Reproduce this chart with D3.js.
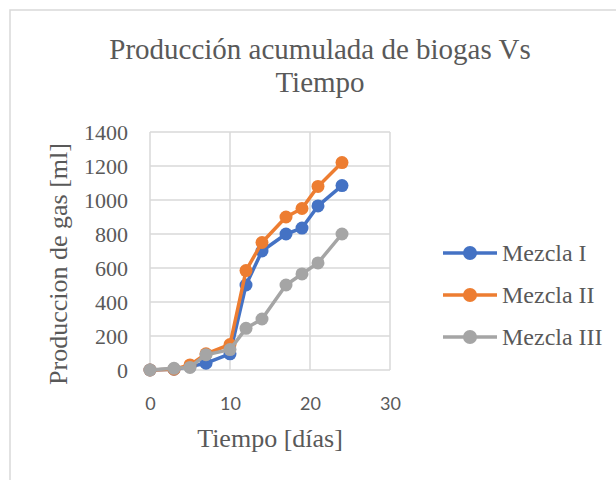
<!DOCTYPE html>
<html>
<head>
<meta charset="utf-8">
<script src="https://cdn.jsdelivr.net/npm/d3@7"></script>
<style>
  html, body { margin: 0; padding: 0; background: #fff; }
  svg { display: block; }
</style>
</head>
<body>
<svg id="chart" width="616" height="480"></svg>
<script>
const days = [0, 3, 5, 7, 10, 12, 14, 17, 19, 21, 24];
const mezclaI   = [0, 5, 20, 40, 95, 500, 700, 800, 835, 965, 1085];
const mezclaII  = [0, 5, 30, 95, 150, 585, 750, 900, 950, 1080, 1220];
const mezclaIII = [0, 10, 15, 90, 120, 245, 300, 500, 565, 630, 800];
const seriesNames = ["Mezcla I", "Mezcla II", "Mezcla III"];
const seriesColors = ["#4472C4", "#ED7D31", "#A5A5A5"];
const xTicks = [0, 10, 20, 30];
const yTicks = [0, 200, 400, 600, 800, 1000, 1200, 1400];
const titleLines = ["Producción acumulada de biogas Vs", "Tiempo"];
const xTitle = "Tiempo [días]";
const yTitle = "Produccion de gas [ml]";

const series = [mezclaI, mezclaII, mezclaIII].map((vals, i) => ({
  name: seriesNames[i], color: seriesColors[i],
  points: vals.map((v, j) => ({ x: days[j], y: v }))
}));

const svg = d3.select("#chart");
const serif = "'Liberation Serif', 'Times New Roman', serif";
const sans = "Lato, 'Open Sans', sans-serif";
const textColor = "#595959";
const gridColor = "#d9d9d9";

// outer chart border
svg.append("rect").attr("x", 10).attr("y", 10).attr("width", 640).attr("height", 500)
  .attr("fill", "#fff").attr("stroke", gridColor).attr("stroke-width", 1.5);

const x = d3.scaleLinear().domain([0, 30]).range([150, 390]);
const y = d3.scaleLinear().domain([0, 1400]).range([370, 132]);

// title
const title = svg.append("text").attr("text-anchor", "middle")
  .attr("font-family", serif).attr("font-size", 29).attr("fill", textColor);
titleLines.forEach((t, i) => {
  title.append("tspan").attr("x", 320).attr("y", 59 + i * 33).text(t);
});

// gridlines
svg.append("g").selectAll("line").data(yTicks).join("line")
  .attr("x1", x(0)).attr("x2", x(30)).attr("y1", d => y(d)).attr("y2", d => y(d))
  .attr("stroke", gridColor).attr("stroke-width", 1.5);
svg.append("g").selectAll("line").data(xTicks).join("line")
  .attr("x1", d => x(d)).attr("x2", d => x(d)).attr("y1", y(0)).attr("y2", y(1400))
  .attr("stroke", gridColor).attr("stroke-width", 1.5);

// y axis
const yAxis = svg.append("g").attr("transform", `translate(${x(0) - 22},0)`)
  .call(d3.axisLeft(y).tickValues(yTicks).tickSize(0).tickPadding(0).tickFormat(d3.format("d")));
yAxis.select(".domain").remove();
yAxis.selectAll("text").attr("font-family", serif).attr("font-size", 22).attr("fill", textColor)
  .attr("dy", "0.34em");

// x axis
const xAxis = svg.append("g").attr("transform", `translate(0,${y(0)})`)
  .call(d3.axisBottom(x).tickValues(xTicks).tickSize(0).tickPadding(0).tickFormat(d3.format("d")));
xAxis.select(".domain").remove();
xAxis.selectAll("text").attr("font-family", sans).attr("font-size", 18).attr("fill", textColor)
  .attr("y", 40).attr("dy", 0);

// axis titles
svg.append("text").attr("x", 270).attr("y", 447).attr("text-anchor", "middle")
  .attr("font-family", serif).attr("font-size", 26).attr("fill", textColor).text(xTitle);
svg.append("text").attr("transform", "translate(67,264) rotate(-90)").attr("text-anchor", "middle")
  .attr("font-family", serif).attr("font-size", 26).attr("fill", textColor).text(yTitle);

// series
const line = d3.line().x(d => x(d.x)).y(d => y(d.y));
series.forEach(s => {
  const g = svg.append("g");
  g.append("path").attr("d", line(s.points)).attr("fill", "none")
    .attr("stroke", s.color).attr("stroke-width", 3.5).attr("stroke-linejoin", "round");
  g.selectAll("circle").data(s.points).join("circle")
    .attr("cx", d => x(d.x)).attr("cy", d => y(d.y)).attr("r", 6.5).attr("fill", s.color);
});

// legend
const legend = svg.append("g");
series.forEach((s, i) => {
  const ly = 253 + i * 42;
  legend.append("line").attr("x1", 443).attr("x2", 497).attr("y1", ly).attr("y2", ly)
    .attr("stroke", s.color).attr("stroke-width", 3.5);
  legend.append("circle").attr("cx", 470).attr("cy", ly).attr("r", 7).attr("fill", s.color);
  legend.append("text").attr("x", 502).attr("y", ly).attr("dy", "0.33em")
    .attr("font-family", serif).attr("font-size", 24).attr("fill", textColor).text(s.name);
});
</script>
</body>
</html>
